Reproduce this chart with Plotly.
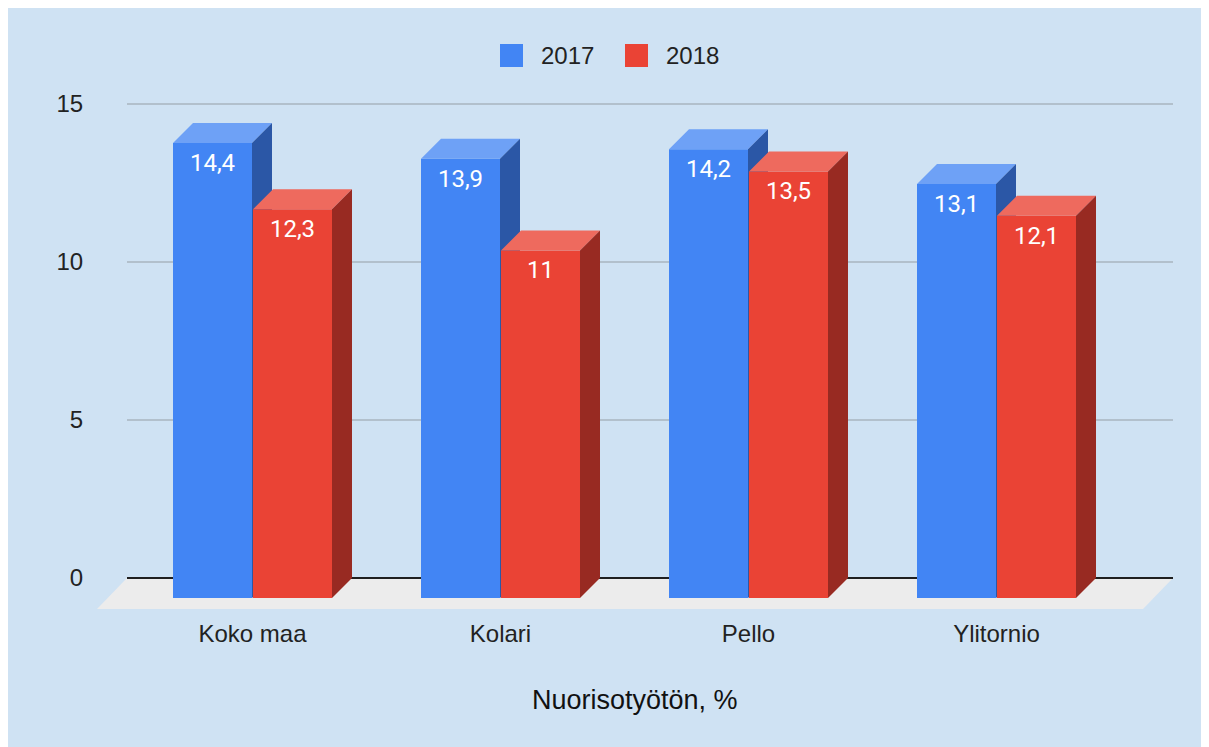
import plotly.graph_objects as go

categories = ["Koko maa", "Kolari", "Pello", "Ylitornio"]
series_names = ["2017", "2018"]
values_2017 = [14.4, 13.9, 14.2, 13.1]
values_2018 = [12.3, 11.0, 13.5, 12.1]
y_ticks = [0, 5, 10, 15]

# colours
BG = "#cfe2f3"
FRONT = ["#4285f4", "#ea4335"]
TOP = ["#6ea1f6", "#ee6a5e"]
SIDE = ["#2b57a6", "#982a22"]
TXT = "#222222"
AX_FONT = "Liberation Sans, Arial, sans-serif"

# geometry in screen pixels (reference), converted to data units
OX, OY = 8, 8                 # page offset of the figure
W, H = 1209, 747
PL, PR, PT, PB = 97, 1173, 100, 610   # plot area in screen px
Y0 = 578                              # screen y of value 0 (back plane)
PX_PER_UNIT_Y = (Y0 - 104) / 15.0
CAT0 = 252.5                          # screen x of first category (front)
PX_PER_CAT = 248.0

def xu(px):
    return (px - CAT0) / PX_PER_CAT

x_range = [xu(PL), xu(PR)]
y_range = [(Y0 - PB) / PX_PER_UNIT_Y, (Y0 - PT) / PX_PER_UNIT_Y]

DX = 20 / PX_PER_CAT          # depth offset (x)
DY = 20 / PX_PER_UNIT_Y       # depth offset (y)
BW = 79 / PX_PER_CAT          # bar width
GAP = 1 / PX_PER_CAT

fig = go.Figure()

# floor
fx0, fx1 = xu(127), xu(1173)
fdx = 30 / PX_PER_CAT
fdy = 31 / PX_PER_UNIT_Y
fig.add_trace(go.Scatter(
    x=[fx0, fx1, fx1 - fdx, fx0 - fdx, fx0],
    y=[0, 0, -fdy, -fdy, 0],
    mode="lines", fill="toself", fillcolor="#ececec",
    line=dict(width=0, color="#ececec"), hoverinfo="skip", showlegend=False))

# gridlines
for t in y_ticks:
    fig.add_trace(go.Scatter(
        x=[fx0, fx1], y=[t, t], mode="lines",
        line=dict(color="#1f1f1f" if t == 0 else "#a9b4bf", width=2 if t == 0 else 1.5),
        hoverinfo="skip", showlegend=False))

# bars
for si, vals in enumerate([values_2017, values_2018]):
    fx, fy, tx, ty, sx, sy = [], [], [], [], [], []
    for ci, v in enumerate(vals):
        x0 = ci - BW - GAP / 2 if si == 0 else ci + GAP / 2
        x1 = x0 + BW
        fx += [x0, x1, x1, x0, x0, None]
        fy += [-DY, -DY, v - DY, v - DY, -DY, None]
        tx += [x0, x0 + DX, x1 + DX, x1, x0, None]
        ty += [v - DY, v, v, v - DY, v - DY, None]
        sx += [x1, x1 + DX, x1 + DX, x1, x1, None]
        sy += [v - DY, v, 0, -DY, v - DY, None]
    for xs, ys, col in [(fx, fy, FRONT[si]), (tx, ty, TOP[si]), (sx, sy, SIDE[si])]:
        fig.add_trace(go.Scatter(
            x=xs, y=ys, mode="lines", fill="toself", fillcolor=col,
            line=dict(width=0, color=col), hoverinfo="skip", showlegend=False))
    # data labels
    lx = [ci - BW / 2 - GAP / 2 if si == 0 else ci + GAP / 2 + BW / 2 for ci in range(len(vals))]
    ly = [v - DY - 22 / PX_PER_UNIT_Y for v in vals]
    fig.add_trace(go.Scatter(
        x=lx, y=ly, mode="text",
        text=[("%g" % v).replace(".", ",") for v in vals],
        textfont=dict(color="white", size=24, family="Roboto"),
        textposition="middle center", hoverinfo="skip", showlegend=False))

fig.update_layout(
    width=W, height=H,
    margin=dict(l=PL - OX, r=(W + OX) - PR, t=PT - OY, b=(H + OY) - PB, pad=0),
    paper_bgcolor=BG, plot_bgcolor="rgba(0,0,0,0)",
    showlegend=False,
    font=dict(family=AX_FONT, color=TXT, size=24),
    xaxis=dict(range=x_range, tickmode="array", tickvals=list(range(len(categories))),
               ticktext=categories, showgrid=False, zeroline=False, showline=False,
               ticks="outside", ticklen=2, tickcolor="rgba(0,0,0,0)",
               tickfont=dict(size=24, color=TXT, family=AX_FONT), fixedrange=True),
    yaxis=dict(range=y_range, tickmode="array", tickvals=y_ticks,
               ticktext=[str(t) for t in y_ticks], showgrid=False, zeroline=False,
               showline=False, ticks="outside", ticklen=8, tickcolor="rgba(0,0,0,0)",
               tickfont=dict(size=24, color=TXT, family=AX_FONT), fixedrange=True),
)

# legend (manual, top centre)
leg_items = [(500, FRONT[0], series_names[0]), (625, FRONT[1], series_names[1])]
for lx0, col, name in leg_items:
    fig.add_shape(type="rect", xref="paper", yref="paper",
                  x0=(lx0 - PL) / (PR - PL), x1=(lx0 + 23 - PL) / (PR - PL),
                  y0=(PB - 67) / (PB - PT), y1=(PB - 44) / (PB - PT),
                  fillcolor=col, line=dict(width=0))
    fig.add_annotation(xref="paper", yref="paper",
                       x=(lx0 + 39 - PL) / (PR - PL), y=(PB - 55.5) / (PB - PT),
                       text=name, showarrow=False, xanchor="left", yanchor="middle",
                       font=dict(size=24, color=TXT, family=AX_FONT))

# axis title
fig.add_annotation(xref="paper", yref="paper", x=0.5, y=(PB - 700) / (PB - PT),
                   text="Nuorisotyötön, %", showarrow=False, xanchor="center",
                   yanchor="middle", font=dict(size=27, color="#111111", family=AX_FONT))

fig.write_html("out.html")
